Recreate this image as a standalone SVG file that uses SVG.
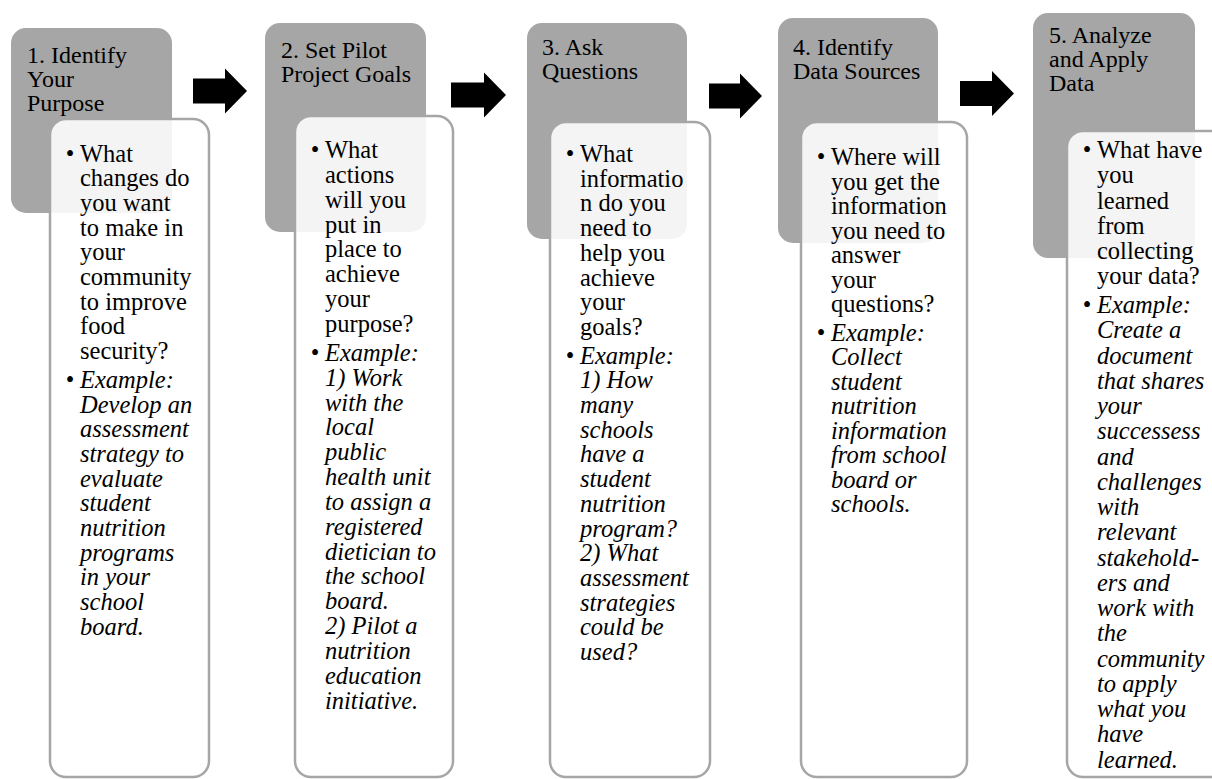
<svg xmlns="http://www.w3.org/2000/svg" width="1212" height="779" viewBox="0 0 1212 779">
<style>
.bg{fill:#ffffff}
.gray{fill:#a6a6a6}
.card{fill:#ffffff;fill-opacity:0.88;stroke:#a6a6a6;stroke-width:2.5}
.title{font-family:"Liberation Serif","Times New Roman",serif;font-size:24px;fill:#000}
.body{font-family:"Liberation Serif","Times New Roman",serif;font-size:24.5px;fill:#000}
.ex{font-style:italic}
.bul{text-anchor:middle}
.arrow{fill:#000}
</style>
<rect class="bg" x="0" y="0" width="1212" height="779"/>

<g id="step1">
<rect class="gray" x="11" y="28" width="161" height="185" rx="15"/>
<text class="title"><tspan x="27" y="63">1. Identify</tspan><tspan x="27" y="87">Your</tspan><tspan x="27" y="111">Purpose</tspan></text>
<rect class="card" x="50" y="119" width="159" height="658" rx="16"/>
<text class="body bul"><tspan x="70" y="161.5">•</tspan><tspan x="70" y="387.8">•</tspan></text>
<text class="body"><tspan x="80" y="161.5">What</tspan><tspan x="80" y="186.2">changes do</tspan><tspan x="80" y="210.9">you want</tspan><tspan x="80" y="235.6">to make in</tspan><tspan x="80" y="260.3">your</tspan><tspan x="80" y="285">community</tspan><tspan x="80" y="309.7">to improve</tspan><tspan x="80" y="334.4">food</tspan><tspan x="80" y="359.1">security?</tspan></text>
<text class="body ex"><tspan x="80" y="387.8">Example:</tspan><tspan x="80" y="412.5">Develop an</tspan><tspan x="80" y="437.2">assessment</tspan><tspan x="80" y="461.9">strategy to</tspan><tspan x="80" y="486.6">evaluate</tspan><tspan x="80" y="511.3">student</tspan><tspan x="80" y="536">nutrition</tspan><tspan x="80" y="560.7">programs</tspan><tspan x="80" y="585.4">in your</tspan><tspan x="80" y="610.1">school</tspan><tspan x="80" y="634.8">board.</tspan></text>
</g>

<g id="step2">
<rect class="gray" x="265" y="23" width="161" height="209" rx="15"/>
<text class="title"><tspan x="281" y="58">2. Set Pilot</tspan><tspan x="281" y="82">Project Goals</tspan></text>
<rect class="card" x="295" y="116" width="158" height="661" rx="16"/>
<text class="body bul"><tspan x="315" y="158">•</tspan><tspan x="315" y="360.8">•</tspan></text>
<text class="body"><tspan x="325" y="158">What</tspan><tspan x="325" y="182.85">actions</tspan><tspan x="325" y="207.7">will you</tspan><tspan x="325" y="232.55">put in</tspan><tspan x="325" y="257.4">place to</tspan><tspan x="325" y="282.25">achieve</tspan><tspan x="325" y="307.1">your</tspan><tspan x="325" y="331.95">purpose?</tspan></text>
<text class="body ex"><tspan x="325" y="360.8">Example:</tspan><tspan x="325" y="385.65">1) Work</tspan><tspan x="325" y="410.5">with the</tspan><tspan x="325" y="435.35">local</tspan><tspan x="325" y="460.2">public</tspan><tspan x="325" y="485.05">health unit</tspan><tspan x="325" y="509.9">to assign a</tspan><tspan x="325" y="534.75">registered</tspan><tspan x="325" y="559.6">dietician to</tspan><tspan x="325" y="584.45">the school</tspan><tspan x="325" y="609.3">board.</tspan><tspan x="325" y="634.15">2) Pilot a</tspan><tspan x="325" y="659">nutrition</tspan><tspan x="325" y="683.85">education</tspan><tspan x="325" y="708.7">initiative.</tspan></text>
</g>

<g id="step3">
<rect class="gray" x="527" y="23" width="160" height="216" rx="15"/>
<text class="title"><tspan x="542" y="55">3. Ask</tspan><tspan x="542" y="79">Questions</tspan></text>
<rect class="card" x="550" y="122" width="160" height="655" rx="16"/>
<text class="body bul"><tspan x="570" y="162">•</tspan><tspan x="570" y="363.6">•</tspan></text>
<text class="body"><tspan x="580" y="162">What</tspan><tspan x="580" y="186.7">informatio</tspan><tspan x="580" y="211.4">n do you</tspan><tspan x="580" y="236.1">need to</tspan><tspan x="580" y="260.8">help you</tspan><tspan x="580" y="285.5">achieve</tspan><tspan x="580" y="310.2">your</tspan><tspan x="580" y="334.9">goals?</tspan></text>
<text class="body ex"><tspan x="580" y="363.6">Example:</tspan><tspan x="580" y="388.3">1) How</tspan><tspan x="580" y="413">many</tspan><tspan x="580" y="437.7">schools</tspan><tspan x="580" y="462.4">have a</tspan><tspan x="580" y="487.1">student</tspan><tspan x="580" y="511.8">nutrition</tspan><tspan x="580" y="536.5">program?</tspan><tspan x="580" y="561.2">2) What</tspan><tspan x="580" y="585.9">assessment</tspan><tspan x="580" y="610.6">strategies</tspan><tspan x="580" y="635.3">could be</tspan><tspan x="580" y="660">used?</tspan></text>
</g>

<g id="step4">
<rect class="gray" x="778" y="18" width="160" height="225" rx="15"/>
<text class="title"><tspan x="793" y="55">4. Identify</tspan><tspan x="793" y="79">Data Sources</tspan></text>
<rect class="card" x="801" y="122" width="166" height="655" rx="16"/>
<text class="body bul"><tspan x="821" y="165">•</tspan><tspan x="821" y="340.5">•</tspan></text>
<text class="body"><tspan x="831" y="165">Where will</tspan><tspan x="831" y="189.5">you get the</tspan><tspan x="831" y="214">information</tspan><tspan x="831" y="238.5">you need to</tspan><tspan x="831" y="263">answer</tspan><tspan x="831" y="287.5">your</tspan><tspan x="831" y="312">questions?</tspan></text>
<text class="body ex"><tspan x="831" y="340.5">Example:</tspan><tspan x="831" y="365">Collect</tspan><tspan x="831" y="389.5">student</tspan><tspan x="831" y="414">nutrition</tspan><tspan x="831" y="438.5">information</tspan><tspan x="831" y="463">from school</tspan><tspan x="831" y="487.5">board or</tspan><tspan x="831" y="512">schools.</tspan></text>
</g>

<g id="step5">
<rect class="gray" x="1033" y="13" width="162" height="245" rx="15"/>
<text class="title"><tspan x="1049" y="43">5. Analyze</tspan><tspan x="1049" y="67">and Apply</tspan><tspan x="1049" y="91">Data</tspan></text>
<rect class="card" x="1067" y="131" width="170" height="646" rx="16"/>
<text class="body bul"><tspan x="1087" y="158">•</tspan><tspan x="1087" y="313">•</tspan></text>
<text class="body"><tspan x="1097" y="158">What have</tspan><tspan x="1097" y="183.25">you</tspan><tspan x="1097" y="208.5">learned</tspan><tspan x="1097" y="233.75">from</tspan><tspan x="1097" y="259">collecting</tspan><tspan x="1097" y="284.25">your data?</tspan></text>
<text class="body ex"><tspan x="1097" y="313">Example:</tspan><tspan x="1097" y="338.25">Create a</tspan><tspan x="1097" y="363.5">document</tspan><tspan x="1097" y="388.75">that shares</tspan><tspan x="1097" y="414">your</tspan><tspan x="1097" y="439.25">successess</tspan><tspan x="1097" y="464.5">and</tspan><tspan x="1097" y="489.75">challenges</tspan><tspan x="1097" y="515">with</tspan><tspan x="1097" y="540.25">relevant</tspan><tspan x="1097" y="565.5">stakehold-</tspan><tspan x="1097" y="590.75">ers and</tspan><tspan x="1097" y="616">work with</tspan><tspan x="1097" y="641.25">the</tspan><tspan x="1097" y="666.5">community</tspan><tspan x="1097" y="691.75">to apply</tspan><tspan x="1097" y="717">what you</tspan><tspan x="1097" y="742.25">have</tspan><tspan x="1097" y="767.5">learned.</tspan></text>
</g>

<g id="connectors">
<polygon class="arrow" points="193,78.5 225,78.5 225,68.5 247,91 225,113.5 225,103.5 193,103.5"/>
<polygon class="arrow" points="451,82.5 484,82.5 484,72.5 506,95 484,117.5 484,107.5 451,107.5"/>
<polygon class="arrow" points="709,83.5 740,83.5 740,73.5 762,96 740,118.5 740,108.5 709,108.5"/>
<polygon class="arrow" points="960,81 992,81 992,71 1014,93.5 992,116 992,106 960,106"/>
</g>
</svg>
